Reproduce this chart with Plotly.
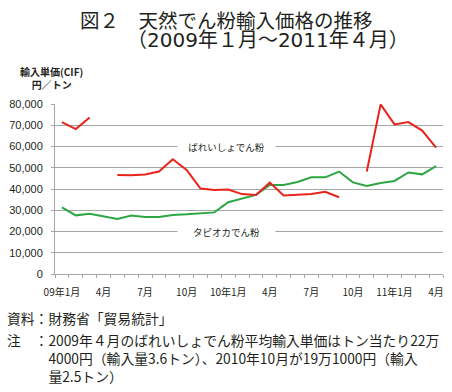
import plotly.graph_objects as go

months = list(range(28))
tick_pos = [0, 3, 6, 9, 12, 15, 18, 21, 24, 27]
tick_text = ["09年1月", "4月", "7月", "10月", "10年1月", "4月", "7月", "10月", "11年1月", "4月"]

potato = [71500, 68200, 73700, None, 46600, 46500, 46800, 48200, 54000, 49000,
          40200, 39500, 39800, 37600, 37200, 43000, 36900, 37100, 37600, 38700,
          36100, None, 48200, 79800, 70400, 71500, 67500, 59500]
tapioca = [31400, 27600, 28400, 27100, 25900, 27500, 26800, 26800, 27800, 28100,
           28700, 29000, 33800, 35400, 37200, 41900, 41900, 43300, 45500, 45500,
           48200, 43100, 41400, 42800, 43800, 47800, 46900, 50800]

JP = "Noto Sans CJK JP"
TXT = "#231f20"
GRID = "#a6a6a6"

L, R, T, B = 55, 9, 104, 118
PW, PH = 452 - L - R, 392 - T - B

def px(x):
    return (x - L) / PW

def py(y):
    return (392 - B - y) / PH

fig = go.Figure()
fig.add_trace(go.Scatter(x=months, y=tapioca, mode="lines",
                         line=dict(color="#2ea643", width=2), connectgaps=False,
                         showlegend=False, hoverinfo="skip"))
fig.add_trace(go.Scatter(x=months, y=potato, mode="lines",
                         line=dict(color="#e8231c", width=2), connectgaps=False,
                         showlegend=False, hoverinfo="skip"))
fig.add_trace(go.Scatter(x=[0], y=[0], xaxis="x2", mode="markers",
                         marker=dict(opacity=0), showlegend=False, hoverinfo="skip"))

fig.update_layout(
    template="none",
    width=452, height=392,
    margin=dict(l=L, r=R, t=T, b=B, autoexpand=False),
    paper_bgcolor="white", plot_bgcolor="white",
    font=dict(family=JP, color=TXT),
    xaxis=dict(range=[-0.5, 27.5], tickmode="array",
               tickvals=[k - 0.5 for k in range(29)], automargin=False,
               showticklabels=False, ticks="outside", ticklen=3,
               tickcolor=GRID, showline=True, linecolor=GRID, linewidth=1,
               showgrid=False, zeroline=False),
    xaxis2=dict(range=[-0.5, 27.5], overlaying="x", side="bottom", anchor="y",
                tickmode="array", tickvals=tick_pos, ticktext=tick_text,
                ticks="", showline=False, showgrid=False, zeroline=False,
                automargin=False, ticklabelstandoff=11,
                tickfont=dict(family=JP, size=10, color=TXT)),
    yaxis=dict(range=[0, 80000], dtick=10000, tickformat=",",
               showgrid=True, gridcolor=GRID, gridwidth=1, automargin=False,
               showline=True, linecolor=GRID, ticks="outside", ticklen=3,
               tickcolor=GRID, zeroline=False, ticklabelstandoff=6,
               tickfont=dict(family="Liberation Sans", size=11, color=TXT)),
)

ann = []
ann.append(dict(text="図２　天然でん粉輸入価格の推移", xref="paper", yref="paper",
                x=px(78), y=py(19), xanchor="left", yanchor="middle",
                showarrow=False, font=dict(family=JP, size=19.5, color=TXT)))
ann.append(dict(text="（2009年１月～2011年４月）", xref="paper", yref="paper",
                x=px(125), y=py(40), xanchor="left", yanchor="middle",
                showarrow=False,
                font=dict(family="DejaVu Sans, Noto Sans CJK JP", size=20, color=TXT)))
ann.append(dict(text="<b>輸入単価(CIF)</b><br><b>円／トン</b>", xref="paper", yref="paper",
                x=px(51.5), y=py(78), xanchor="center", yanchor="middle", align="center",
                showarrow=False, font=dict(family=JP, size=10, color=TXT)))
ann.append(dict(text="ばれいしょでん粉", xref="x", yref="y", x=11.9, y=60000,
                showarrow=False, bgcolor="white", width=95, align="center",
                font=dict(family=JP, size=9.5, color=TXT)))
ann.append(dict(text="タピオカでん粉", xref="x", yref="y", x=11.9, y=20000,
                showarrow=False, bgcolor="white", width=95, align="center",
                font=dict(family=JP, size=9.5, color=TXT)))

source_text = "資料：財務省「貿易統計」"
note_lines = [
    "注　：2009年４月のばれいしょでん粉平均輸入単価はトン当たり22万",
    "　　　4000円（輸入量3.6トン）、2010年10月が19万1000円（輸入",
    "　　　量2.5トン）",
]
ann.append(dict(text=source_text, xref="paper", yref="paper",
                x=px(5), y=py(318), xanchor="left", yanchor="middle",
                showarrow=False, font=dict(family=JP, size=13.8, color=TXT)))
ann.append(dict(text="<br>".join(note_lines), xref="paper", yref="paper",
                x=px(5), y=py(358), xanchor="left", yanchor="middle", align="left",
                showarrow=False, font=dict(family=JP, size=13.8, color=TXT)))

fig.update_layout(annotations=ann)
fig.write_html("out.html", config={"displayModeBar": False},
               post_script="document.body.style.margin='0';document.body.style.padding='0';")
